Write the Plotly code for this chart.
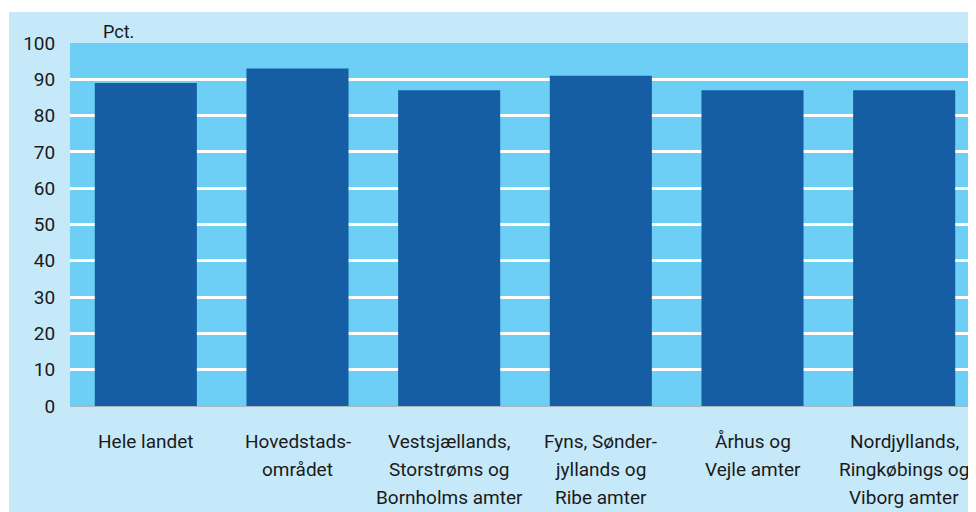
import plotly.graph_objects as go

# data
categories = ["Hele landet", "Hovedstads-<br>området", "Vestsjællands,<br>Storstrøms og<br>Bornholms amter",
              "Fyns, Sønder-<br>jyllands og<br>Ribe amter", "Århus og<br>Vejle amter",
              "Nordjyllands,<br>Ringkøbings og<br>Viborg amter"]
values = [89, 93, 87, 91, 87, 87]
y_ticks = [0, 10, 20, 30, 40, 50, 60, 70, 80, 90, 100]

font_family = "Roboto, Liberation Sans, sans-serif"
text_color = "#1a1a1a"

# page geometry: the html body adds an 8px margin, so the figure is shifted
OFF = 8
W, H = 976 - OFF, 512 - OFF
plot_left, plot_top, plot_bottom = 70, 43, 406   # page pixels
ml, mr, mt, mb = plot_left - OFF, 0, plot_top - OFF, H - (plot_bottom - OFF)
pw, ph = W - ml - mr, H - mt - mb

def px_x(x):
    return (x - OFF - ml) / pw

def px_y(y):
    return (H - mb - (y - OFF)) / ph

xs = list(range(len(categories)))
# the plot area is cut by the right edge of the page
x_right = len(categories) - 0.5 - 4 / 151.6

fig = go.Figure(go.Bar(
    x=xs, y=values,
    marker=dict(color="#155ea3", line=dict(width=0)),
    width=0.673,
    hoverinfo="y",
))

# light blue panel behind everything
shapes = [dict(type="rect", xref="paper", yref="paper",
               x0=px_x(9), x1=px_x(990), y0=px_y(530), y1=px_y(12),
               fillcolor="#c6e9f9", line=dict(width=0), layer="below"),
          dict(type="rect", xref="paper", yref="paper",
               x0=0, x1=1, y0=0, y1=1,
               fillcolor="#6dcff6", line=dict(width=0), layer="below")]

annotations = [dict(text="Pct.", xref="paper", yref="paper", x=px_x(101), y=px_y(31),
                    xanchor="left", yanchor="middle", showarrow=False,
                    font=dict(size=18, color=text_color, family=font_family))]

# category labels, one annotation per line
for i, cat in enumerate(categories):
    for j, line in enumerate(cat.split("<br>")):
        annotations.append(dict(text=line, xref="x", yref="paper", x=i,
                                y=px_y(441 + j * 28.5), xanchor="center", yanchor="middle",
                                showarrow=False,
                                font=dict(size=19, color=text_color, family=font_family)))

fig.update_layout(
    width=W, height=H,
    margin=dict(l=ml, r=mr, t=mt, b=mb),
    paper_bgcolor="white",
    plot_bgcolor="rgba(0,0,0,0)",
    showlegend=False,
    bargap=0.327,
    shapes=shapes,
    annotations=annotations,
    xaxis=dict(range=[-0.5, x_right], showticklabels=False,
               showgrid=False, zeroline=False, showline=False, fixedrange=True),
    yaxis=dict(range=[0, 100], tickvals=y_ticks, showgrid=True, gridcolor="white",
               gridwidth=2.5, zeroline=True, zerolinecolor="#a8b8c0", zerolinewidth=2,
               ticks="outside", ticklen=10, tickcolor="rgba(0,0,0,0)",
               tickfont=dict(size=19, color=text_color, family=font_family),
               showline=False, fixedrange=True),
    font=dict(family=font_family, color=text_color),
)

fig.write_html("out.html")
